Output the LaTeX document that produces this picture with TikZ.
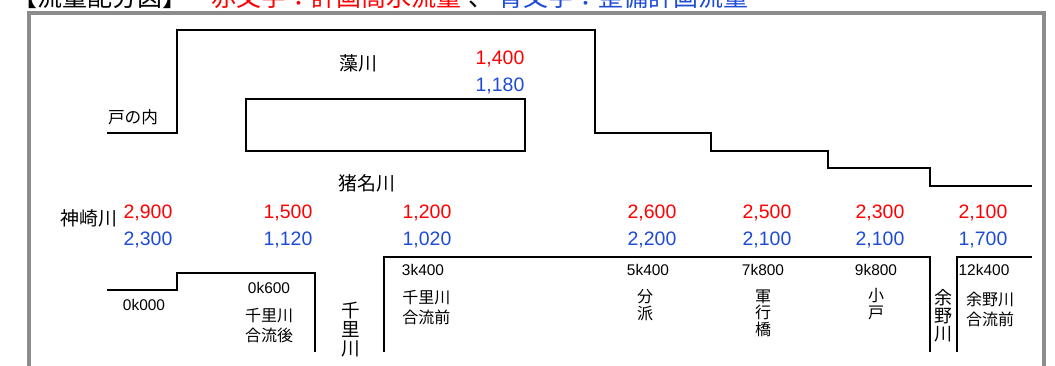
\documentclass[tikz,border=0pt]{standalone}
\usepackage{fontspec}
\setmainfont{Liberation Sans}
\newfontfamily\jp{Noto Sans CJK JP}
\definecolor{fred}{RGB}{255,0,0}
\definecolor{fblue}{RGB}{30,75,215}
\definecolor{framegray}{RGB}{140,140,140}
\begin{document}
\begin{tikzpicture}[x=0.75pt,y=-0.75pt,
  lbl/.style={inner sep=0pt, font=\jp\fontsize{14.2}{14.2}\selectfont},
  sm/.style={inner sep=0pt, align=center, font=\jp\fontsize{12}{15}\selectfont},
  km/.style={inner sep=0pt, anchor=base, font=\fontsize{11.6}{12}\selectfont},
  qr/.style={inner sep=0pt, anchor=base, text=fred, font=\fontsize{14.6}{15}\selectfont},
  qb/.style={qr, text=fblue},
  ttl/.style={inner sep=0pt, anchor=base west, font=\jp\fontsize{18.75}{19}\selectfont},
  river/.style={line width=1.5pt, line join=miter},
]
\useasboundingbox (0,0) rectangle (1055,366);
\fill[white] (0,0) rectangle (1055,366);

% title (clipped at top)
\node[ttl] (t1) at (12,7) {【流量配分図】};
\node[ttl, text=fred] (t2) at (211,7) {赤文字：計画高水流量};
\node[ttl] (t3) at (468,7) {、};
\node[ttl, text=fblue] (t4) at (498,7) {青文字：整備計画流量};

% frame
\draw[framegray, line width=2.3pt] (29,380) -- (29,13) -- (1044,13) -- (1044,380);

% upper river lines
\draw[river] (107,133) -- (177,133) -- (177,30) -- (595,30) -- (595,133)
  -- (711,133) -- (711,151) -- (828,151) -- (828,168) -- (930,168) -- (930,186) -- (1032,186);
\draw[river, line width=1.3pt] (246,99) rectangle (525,151);

% lower lines
\draw[river] (107,290) -- (177,290) -- (177,273) -- (315,273) -- (315,352);
\draw[river] (384,352) -- (384,257) -- (930,257) -- (930,352);
\draw[river] (957,352) -- (957,257) -- (1032,257);

% labels
\node[lbl, font=\jp\fontsize{12.5}{12.5}\selectfont] (tonouchi) at (133,117) {戸の内};
\node[lbl] (mokawa) at (358,63) {藻川};
\node[lbl] (inagawa) at (367,183) {猪名川};
\node[lbl] (kanzaki) at (89,218) {神崎川};

% flows
\node[qr] (q1r) at (500,65) {1,400};
\node[qb] (q1b) at (500,92) {1,180};
\node[qr] (a1) at (148,219) {2,900};
\node[qb] (b1) at (148,246) {2,300};
\node[qr] (a2) at (288,219) {1,500};
\node[qb] (b2) at (288,246) {1,120};
\node[qr] (a3) at (427,219) {1,200};
\node[qb] (b3) at (427,246) {1,020};
\node[qr] (a4) at (652,219) {2,600};
\node[qb] (b4) at (652,246) {2,200};
\node[qr] (a5) at (767,219) {2,500};
\node[qb] (b5) at (767,246) {2,100};
\node[qr] (a6) at (880,219) {2,300};
\node[qb] (b6) at (880,246) {2,100};
\node[qr] (a7) at (983,219) {2,100};
\node[qb] (b7) at (983,246) {1,700};

% km posts
\node[km] (k0) at (144,310.5) {0k000};
\node[km] (k1) at (269,293.5) {0k600};
\node[km] (k2) at (423,275.5) {3k400};
\node[km] (k3) at (648,275.5) {5k400};
\node[km] (k4) at (763,275.5) {7k800};
\node[km] (k5) at (876,275.5) {9k800};
\node[km] (k6) at (984,275.5) {12k400};

% site names
\node[sm] (s1) at (269,326) {千里川\\合流後};
\node[sm, anchor=west, align=left] (s2) at (402,308) {千里川\\合流前};
\node[sm, font=\jp\fontsize{12}{12.8}\selectfont] (s3) at (645,305.5) {分\\派};
\node[sm, font=\jp\fontsize{12}{12.4}\selectfont] (s4) at (763,313) {軍\\行\\橋};
\node[sm, font=\jp\fontsize{12}{12.8}\selectfont] (s5) at (876,304.5) {小\\戸};
\node[sm] (s6) at (990,309) {余野川\\合流前};

% tributary names (vertical)
\node[sm, font=\jp\fontsize{14}{14.3}\selectfont] (senri) at (351,330) {千\\里\\川};
\node[sm, font=\jp\fontsize{13.5}{13.5}\selectfont] (yono) at (943,316) {余\\野\\川};
\end{tikzpicture}
\end{document}
